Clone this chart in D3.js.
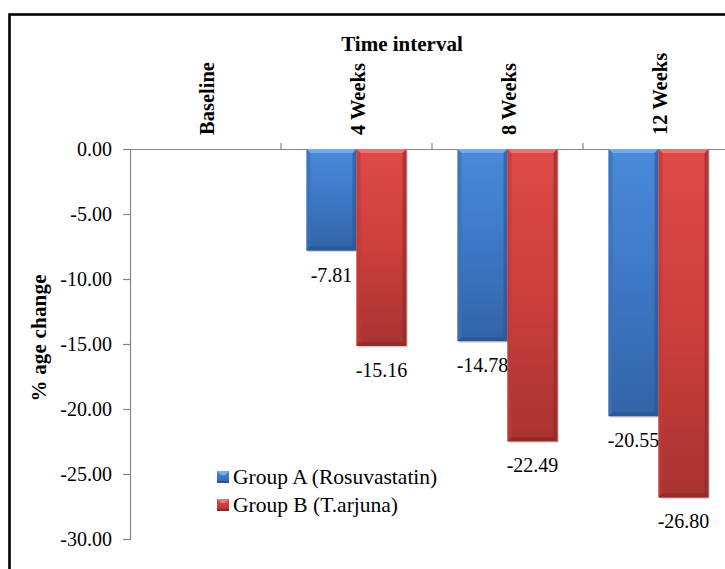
<!DOCTYPE html>
<html>
<head>
<meta charset="utf-8">
<script src="https://cdn.jsdelivr.net/npm/d3@7"></script>
<style>
html,body{margin:0;padding:0;background:#fff;}
svg{display:block;}
</style>
</head>
<body>
<svg id="chart" width="725" height="569"></svg>
<script>
const categories = ["Baseline", "4 Weeks", "8 Weeks", "12 Weeks"];
const seriesNames = ["Group A (Rosuvastatin)", "Group B (T.arjuna)"];
const groupA = [null, -7.81, -14.78, -20.55];
const groupB = [null, -15.16, -22.49, -26.80];
const yTicks = [0, -5, -10, -15, -20, -25, -30];

const FONT = "'Liberation Serif', 'Times New Roman', serif";
const fmt = v => d3.format(".2f")(v).replace("\u2212","-");

const palette = [
  {top:"#4a8ad9", mid:"#3d78c6", bot:"#3264a6", light:"#7aaeea", dark:"#2a5590", side:"#3a70b8"},
  {top:"#de4a48", mid:"#cc3f3d", bot:"#a83331", light:"#ee7877", dark:"#8e2a29", side:"#c03a38"}
];

const svg = d3.select("#chart").attr("font-family", FONT);
const defs = svg.append("defs");
palette.forEach((p,i)=>{
  const g = defs.append("linearGradient").attr("id","grad"+i)
    .attr("x1",0).attr("y1",0).attr("x2",0).attr("y2",1);
  g.append("stop").attr("offset","0%").attr("stop-color",p.top);
  g.append("stop").attr("offset","50%").attr("stop-color",p.mid);
  g.append("stop").attr("offset","100%").attr("stop-color",p.bot);
});

svg.append("rect").attr("x",9.5).attr("y",14.5).attr("width",800).attr("height",700)
  .attr("fill","none").attr("stroke","#000").attr("stroke-width",2.6);

const plotLeft = 130, bandW = 151;
const x = d3.scaleBand().domain(categories).range([plotLeft, plotLeft + bandW*categories.length]).paddingInner(0).paddingOuter(0);
const xs = d3.scaleBand().domain([0,1]).range([0, 100]);
const y = d3.scaleLinear().domain([0,-30]).range([149, 539]);

const yAxis = d3.axisLeft(y).tickValues(yTicks).tickSize(7).tickPadding(11).tickFormat(fmt);
const gy = svg.append("g").attr("transform",`translate(${plotLeft},0)`).call(yAxis);
gy.attr("font-family", FONT).attr("font-size", 20);
gy.select(".domain").attr("stroke","#868686").attr("stroke-width",1.2);
gy.selectAll(".tick line").attr("stroke","#868686").attr("stroke-width",1.2);
gy.selectAll(".tick text").attr("fill","#000");

const xAxis = d3.axisTop(x).tickSize(0).tickFormat("");
const gx = svg.append("g").attr("transform",`translate(0,${y(0)})`).call(xAxis);
gx.select(".domain").attr("stroke","#868686").attr("stroke-width",1.2);
const bounds = categories.map(c => x(c)).concat([x(categories[categories.length-1]) + x.bandwidth()]);
svg.append("g").selectAll("line").data(bounds.slice(1)).join("line")
  .attr("x1",d=>d).attr("x2",d=>d).attr("y1",y(0)-6).attr("y2",y(0))
  .attr("stroke","#868686").attr("stroke-width",1.2);

svg.append("g").selectAll("text").data(categories).join("text")
  .attr("transform",d=>`translate(${x(d)+x.bandwidth()/2+8},135) rotate(-90)`)
  .attr("text-anchor","start")
  .attr("font-size",20.5).attr("font-weight","bold")
  .text(d=>d);

svg.append("text").attr("x",402).attr("y",51).attr("text-anchor","middle")
  .attr("font-size",21).attr("font-weight","bold").text("Time interval");

svg.append("text").attr("transform","translate(46,338) rotate(-90)").attr("text-anchor","middle")
  .attr("font-size",21).attr("font-weight","bold")
  .attr("textLength",127).attr("lengthAdjust","spacing").text("% age change");

const series = [groupA, groupB];
const b = 4;
series.forEach((vals, si)=>{
  const p = palette[si];
  const data = categories.map((c,i)=>({c, v: vals[i]})).filter(d=>d.v !== null);
  const g = svg.append("g");
  data.forEach(d=>{
    const x0 = x(d.c) + (x.bandwidth()-100)/2 + xs(si);
    const x1 = x0 + xs.bandwidth();
    const y0 = y(0), y1 = y(d.v);
    g.append("rect").attr("x",x0+1.5).attr("y",y0+1.5).attr("width",x1-x0).attr("height",y1-y0)
      .attr("fill","#000").attr("opacity",0.15);
    g.append("rect").attr("x",x0).attr("y",y0).attr("width",x1-x0).attr("height",y1-y0)
      .attr("fill",`url(#grad${si})`);
    g.append("polygon").attr("points",[[x0,y0],[x1,y0],[x1-b,y0+b],[x0+b,y0+b]].join(" ")).attr("fill",p.light).attr("opacity",0.9);
    g.append("polygon").attr("points",[[x0,y0],[x0+b,y0+b],[x0+b,y1-b],[x0,y1]].join(" ")).attr("fill",p.side).attr("opacity",0.7);
    g.append("polygon").attr("points",[[x1,y0],[x1,y1],[x1-b,y1-b],[x1-b,y0+b]].join(" ")).attr("fill",p.dark).attr("opacity",0.6);
    g.append("polygon").attr("points",[[x0,y1],[x1,y1],[x1-b,y1-b],[x0+b,y1-b]].join(" ")).attr("fill",p.dark).attr("opacity",0.85);
    g.append("text").attr("x",(x0+x1)/2).attr("y",y1+31).attr("text-anchor","middle")
      .attr("font-size",20).text(fmt(d.v));
  });
});

const lg = svg.append("g");
seriesNames.forEach((n,i)=>{
  const p = palette[i];
  const ly = 471 + i*28;
  lg.append("rect").attr("x",217).attr("y",ly).attr("width",12).attr("height",12).attr("fill",`url(#grad${i})`);
  lg.append("polygon").attr("points",[[217,ly],[229,ly],[225,ly+4],[221,ly+4]].join(" ")).attr("fill",p.light);
  lg.append("rect").attr("x",217).attr("y",ly+10).attr("width",12).attr("height",2).attr("fill",p.dark);
  lg.append("text").attr("x",233).attr("y",ly+13).attr("font-size",21.5).text(n);
});
</script>
</body>
</html>
